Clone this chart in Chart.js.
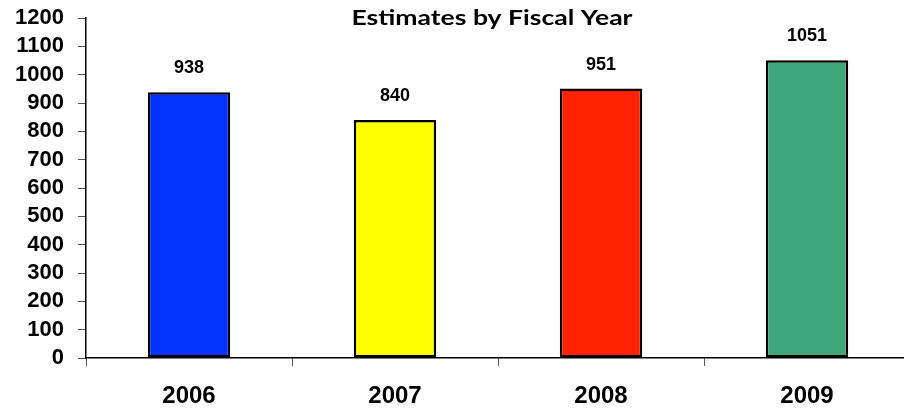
<!DOCTYPE html>
<html>
<head>
<meta charset="utf-8">
<script src="https://cdn.jsdelivr.net/npm/chart.js@4/dist/chart.umd.min.js"></script>
<style>
  html, body { margin: 0; padding: 0; background: #fff; overflow: hidden; }
  #wrap { width: 912px; height: 411px; }
</style>
</head>
<body>
<div id="wrap"><canvas id="fyChart"></canvas></div>
<script>
const years = ["2006", "2007", "2008", "2009"];
const estimates = [938, 840, 951, 1051];
const barColors = ["#0433FF", "#FFFF00", "#FF2200", "#3FA77A"];
const yTicks = [0, 100, 200, 300, 400, 500, 600, 700, 800, 900, 1000, 1100, 1200];
const chartTitle = "Estimates by Fiscal Year";

// draws title and value labels on top of the bars
const labelPlugin = {
  id: "labels",
  afterDatasetsDraw(chart) {
    const ctx = chart.ctx;
    const meta = chart.getDatasetMeta(0);
    ctx.save();
    ctx.fillStyle = "#000";
    ctx.textAlign = "center";
    ctx.textBaseline = "middle";
    ctx.font = "bold 18px 'Liberation Sans', Arial, sans-serif";
    meta.data.forEach(function (bar, i) {
      ctx.fillText(String(estimates[i]), bar.x, bar.y - 24);
    });
    ctx.restore();

    // title, stretched a little sideways like the original
    ctx.save();
    ctx.fillStyle = "#000";
    ctx.textAlign = "center";
    ctx.textBaseline = "alphabetic";
    ctx.font = "bold 21px Lato, 'Open Sans', sans-serif";
    const w = ctx.measureText(chartTitle).width;
    const sx = 281 / w;
    ctx.translate(492, 25);
    ctx.scale(sx, 1);
    ctx.fillText(chartTitle, 0, 0);
    ctx.restore();
  },
};

const ctx = document.getElementById("fyChart").getContext("2d");
new Chart(ctx, {
  type: "bar",
  data: {
    labels: years,
    datasets: [
      {
        data: estimates,
        backgroundColor: barColors,
        borderColor: "#000",
        borderWidth: 2.5,
        borderSkipped: false,
        categoryPercentage: 1.0,
        barPercentage: 0.4,
      },
    ],
  },
  options: {
    responsive: true,
    maintainAspectRatio: false,
    animation: false,
    layout: { padding: { top: 18, right: 2, left: 0, bottom: 0 } },
    plugins: {
      legend: { display: false },
      title: { display: false },
      tooltip: { enabled: false },
    },
    scales: {
      x: {
        offset: true,
        grid: {
          offset: true,
          drawOnChartArea: false,
          drawTicks: true,
          tickLength: 8,
          color: "#555",
        },
        border: { color: "#000", width: 1.5 },
        ticks: {
          color: "#000",
          padding: 16,
          maxRotation: 0,
          font: { family: "'Liberation Sans', Arial, sans-serif", size: 24, weight: "bold" },
        },
        afterFit: function (scale) {
          scale.height = 53;
          scale.paddingLeft = 0;
          scale.paddingRight = 0;
        },
      },
      y: {
        min: 0,
        max: 1200,
        afterBuildTicks: function (scale) {
          scale.ticks = yTicks.map(function (v) { return { value: v }; });
        },
        grid: {
          drawOnChartArea: false,
          drawTicks: true,
          tickLength: 8,
          color: "#555",
        },
        border: { color: "#000", width: 1.5 },
        ticks: {
          color: "#000",
          padding: 14,
          autoSkip: false,
          font: { family: "'Liberation Sans', Arial, sans-serif", size: 22, weight: "bold" },
          callback: function (value) {
            return String(value);
          },
        },
        afterFit: function (scale) {
          scale.width = 86;
          scale.paddingTop = 0;
          scale.paddingBottom = 0;
        },
      },
    },
  },
  plugins: [labelPlugin],
});
</script>
</body>
</html>
